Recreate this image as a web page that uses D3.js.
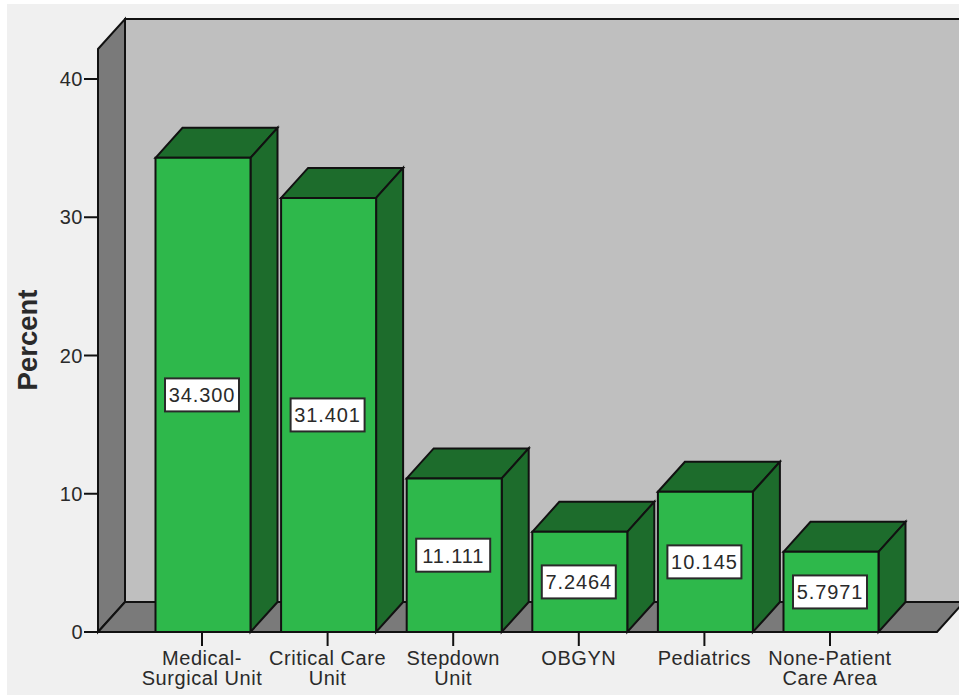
<!DOCTYPE html>
<html>
<head>
<meta charset="utf-8">
<script src="https://cdn.jsdelivr.net/npm/d3@7"></script>
<style>
html,body{margin:0;padding:0;background:#fff;}
svg{display:block;}
text{font-family:"Liberation Sans",Arial,sans-serif;fill:#2a2a2a;}
</style>
</head>
<body>
<svg id="chart" width="959" height="695"></svg>
<script>
// Share of respondents by unit
const categories = [
  ["Medical-", "Surgical Unit"],
  ["Critical Care", "Unit"],
  ["Stepdown", "Unit"],
  ["OBGYN"],
  ["Pediatrics"],
  ["None-Patient", "Care Area"]
];
const percents = [34.300, 31.401, 11.111, 7.2464, 10.145, 5.7971];
const valueLabels = ["34.300", "31.401", "11.111", "7.2464", "10.145", "5.7971"];
const yTicks = [0, 10, 20, 30, 40];

const W = 959, H = 695;
const depthX = 27, depthY = 30;      // oblique offset of the 3-D extrusion
const plotLeft = 98, plotRight = 937, y0 = 632, yMax = 42.17;

const colors = {
  panel: "#f0f0f0", wall: "#bfbfbf", side: "#7a7a7a",
  front: "#2eb84b", dark: "#1d6c2c", line: "#111"
};

const svg = d3.select("#chart");
const y = d3.scaleLinear().domain([0, 40]).range([y0, 79]);
const x = d3.scaleBand().domain(d3.range(categories.length))
  .range([140.2, 893.8]).paddingInner(0.2436).paddingOuter(0.1218);

const topY = y(yMax);
const poly = pts => "M" + pts.map(p => p.join(",")).join("L") + "Z";
const shape = (pts, fill) => svg.append("path").attr("d", poly(pts)).attr("fill", fill)
  .attr("stroke", colors.line).attr("stroke-width", 2);

// Panel behind the chart
svg.append("rect").attr("x", 7).attr("y", 4).attr("width", W - 7).attr("height", H - 4)
  .attr("fill", colors.panel);

// Back wall, side wall and floor
shape([[plotLeft + depthX, topY - depthY], [W + 4, topY - depthY], [W + 4, y0 - depthY], [plotLeft + depthX, y0 - depthY]], colors.wall);
shape([[plotLeft, topY], [plotLeft + depthX, topY - depthY], [plotLeft + depthX, y0 - depthY], [plotLeft, y0]], colors.side);
shape([[plotLeft, y0], [plotLeft + depthX, y0 - depthY], [plotRight + depthX, y0 - depthY], [plotRight, y0]], colors.side);

// Value axis
const yAxis = svg.append("g");
yAxis.selectAll("line").data(yTicks).join("line")
  .attr("x1", 84).attr("x2", plotLeft).attr("y1", d => y(d)).attr("y2", d => y(d))
  .attr("stroke", colors.line).attr("stroke-width", 2);
yAxis.selectAll("text").data(yTicks).join("text")
  .attr("x", 83).attr("y", d => y(d) + 7).attr("text-anchor", "end")
  .attr("font-size", 20).attr("letter-spacing", 0.5).text(d => d);

svg.append("text").attr("transform", "translate(36.5,340) rotate(-90)")
  .attr("text-anchor", "middle").attr("font-size", 27.5).attr("font-weight", "bold")
  .attr("fill", "#111").text("Percent");

// Category ticks and two-line labels sit just left of each bar's centre
const cx = i => x(i) + x.bandwidth() / 2 - 1;
const xAxis = svg.append("g");
xAxis.selectAll("line").data(categories).join("line")
  .attr("x1", (d, i) => cx(i)).attr("x2", (d, i) => cx(i))
  .attr("y1", y0).attr("y2", y0 + 14)
  .attr("stroke", colors.line).attr("stroke-width", 2);
xAxis.selectAll("text").data(categories).join("text")
  .attr("text-anchor", "middle").attr("font-size", 20).attr("letter-spacing", 0.55)
  .each(function (lines, i) {
    d3.select(this).selectAll("tspan").data(lines).join("tspan")
      .attr("x", cx(i)).attr("y", (l, j) => 664.5 + j * 20.5).text(l => l);
  });

// Extruded bars
percents.forEach((v, i) => {
  const l = x(i), r = l + x.bandwidth(), t = y(v);
  shape([[l, t], [l + depthX, t - depthY], [r + depthX, t - depthY], [r, t]], colors.dark);
  shape([[r, t], [r + depthX, t - depthY], [r + depthX, y0 - depthY], [r, y0]], colors.dark);
  shape([[l, t], [r, t], [r, y0], [l, y0]], colors.front);
  const my = (t + y0) / 2, bw = 74, bh = 33;
  svg.append("rect").attr("x", cx(i) - bw / 2).attr("y", my - bh / 2)
    .attr("width", bw).attr("height", bh)
    .attr("fill", "#fff").attr("stroke", "#2a2a2a").attr("stroke-width", 2);
  svg.append("text").attr("x", cx(i)).attr("y", my + 7.5)
    .attr("text-anchor", "middle").attr("font-size", 20).attr("letter-spacing", 0.9)
    .text(valueLabels[i]);
});

// Redraw the baseline over the bars
svg.append("line").attr("x1", plotLeft).attr("x2", plotRight).attr("y1", y0).attr("y2", y0)
  .attr("stroke", colors.line).attr("stroke-width", 2);
</script>
</body>
</html>
